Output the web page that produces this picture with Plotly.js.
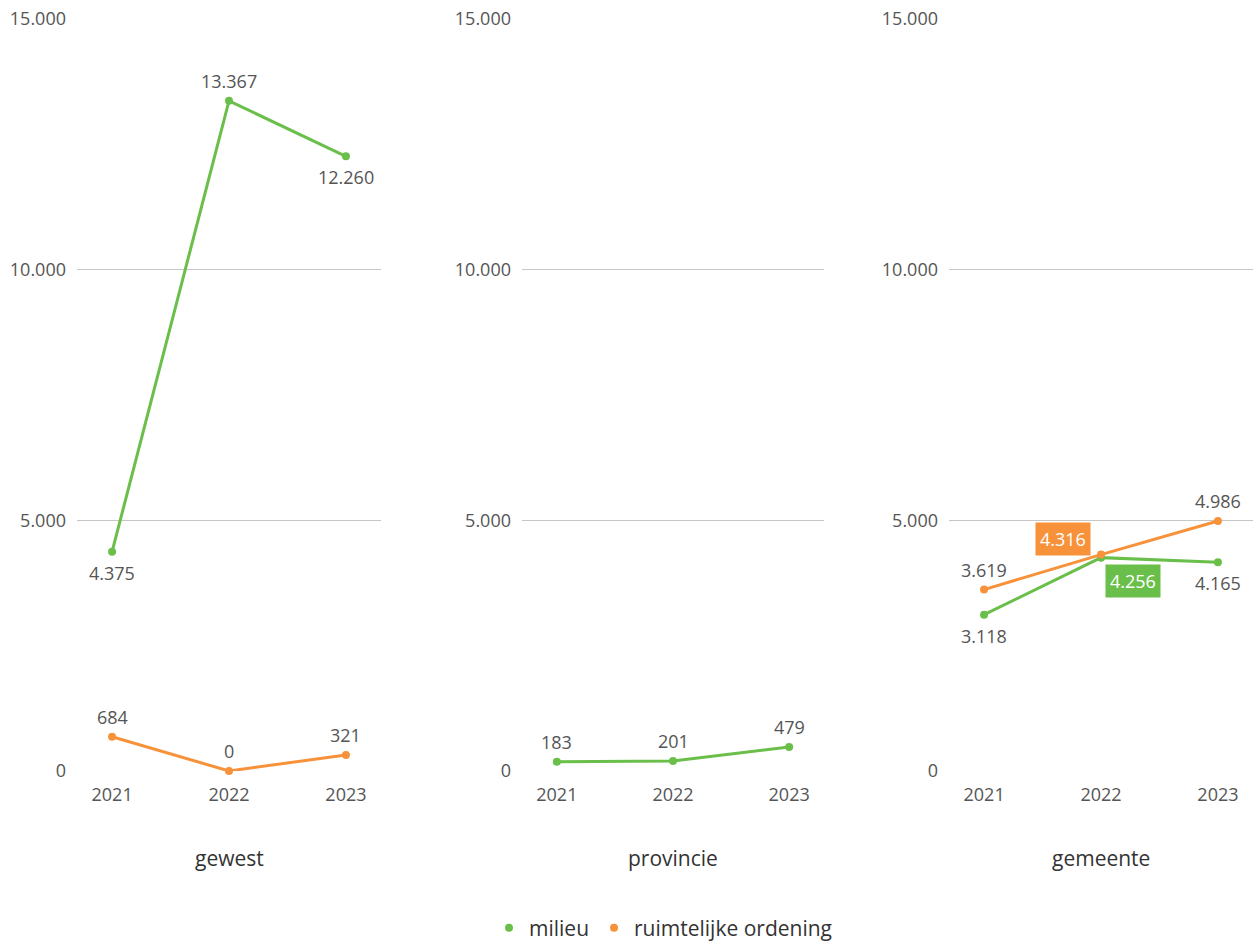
<!DOCTYPE html>
<html><head><meta charset="utf-8">
<script src="https://cdn.plot.ly/plotly-3.0.1.min.js"></script>
<style>html,body{margin:0;padding:0;background:#fff}#c{width:1253px;height:942px}</style>
</head><body><div id="c"></div>
<script>
const years = ['2021', '2022', '2023'];
const panels = ['gewest', 'provincie', 'gemeente'];
const seriesNames = ['milieu', 'ruimtelijke ordening'];
const gewestMilieu = [4375, 13367, 12260];
const gewestRO = [684, 0, 321];
const provincieMilieu = [183, 201, 479];
const provincieRO = [null, null, null];
const gemeenteMilieu = [3118, 4256, 4165];
const gemeenteRO = [3619, 4316, 4986];
const yTicks = [0, 5000, 10000, 15000];
const yTickText = ['0', '5.000', '10.000', '15.000'];

const GREEN = '#6abf4b', ORANGE = '#f7923a';
const FONT = 'Open Sans, sans-serif';
const fmt = v => v == null ? '' : v.toLocaleString('de-DE');
const xIdx = years.map((_, i) => i);

const data = [];
const annotations = [];
// pos: 'a' above, 'b' below, or [xshift, yshift] for boxed label
function addSeries(vals, axis, color, positions) {
  const k = axis === 1 ? '' : axis;
  data.push({
    x: xIdx, y: vals, xaxis: 'x' + k, yaxis: 'y' + k,
    mode: 'lines+markers', showlegend: false, cliponaxis: false,
    line: {color: color, width: 3}, marker: {color: color, size: 8},
    hoverinfo: 'skip'
  });
  vals.forEach((v, i) => {
    if (v == null) return;
    const p = positions[i];
    const a = {
      x: xIdx[i], y: v, xref: 'x' + k, yref: 'y' + k,
      text: fmt(v), showarrow: false, xanchor: 'center', yanchor: 'middle',
      font: {family: FONT, size: 18, color: '#555'}
    };
    if (p === 'a') a.yshift = 20;
    else if (p === 'b') a.yshift = -21;
    else {
      a.xshift = p[0]; a.yshift = p[1];
      a.bgcolor = color; a.borderpad = 4;
      a.font = {family: FONT, size: 18, color: '#fff'};
    }
    annotations.push(a);
  });
}
addSeries(gewestMilieu, 1, GREEN, ['b', 'a', 'b']);
addSeries(gewestRO, 1, ORANGE, ['a', 'a', 'a']);
addSeries(provincieMilieu, 2, GREEN, ['a', 'a', 'a']);
addSeries(provincieRO, 2, ORANGE, ['a', 'a', 'a']);
addSeries(gemeenteMilieu, 3, GREEN, ['b', [32, -23], 'b']);
addSeries(gemeenteRO, 3, ORANGE, ['a', [-38, 16], 'a']);

seriesNames.forEach((n, i) => data.push({
  x: [null], y: [null], mode: 'markers', name: n,
  marker: {color: i === 0 ? GREEN : ORANGE, size: 8}, showlegend: true
}));

const W = 1253, H = 942;
const doms = [[77, 381], [522, 824], [949, 1253]];
const layout = {
  width: W, height: H, margin: {l: 0, r: 0, t: 0, b: 0, autoexpand: false},
  paper_bgcolor: '#fff', plot_bgcolor: '#fff',
  showlegend: true, separators: ',.',
  font: {family: FONT, color: '#555'},
  legend: {orientation: 'h', x: 489 / W, xanchor: 'left', y: 1 - 928 / H, yanchor: 'middle',
    font: {family: FONT, size: 21, color: '#333'}, tracegroupgap: 0},
  annotations: annotations
};
doms.forEach((d, i) => {
  const k = i === 0 ? '' : i + 1;
  layout['xaxis' + k] = {
    domain: [d[0] / W, d[1] / W], type: 'linear', range: [-0.3, 2.3],
    tickvals: xIdx, ticktext: years,
    showgrid: false, zeroline: false, showline: false, ticks: '', ticklabelstandoff: 11,
    tickfont: {family: FONT, size: 18, color: '#555'}, automargin: false,
    anchor: 'y' + k, fixedrange: true
  };
  layout['yaxis' + k] = {
    domain: [1 - 771 / H, 1 - 19 / H], range: [0, 15000],
    tickvals: yTicks, ticktext: yTickText,
    showgrid: true, gridcolor: '#c6c6c6', gridwidth: 1, zeroline: false, showline: false,
    ticks: '', ticklabelstandoff: 10,
    tickfont: {family: FONT, size: 18, color: '#555'}, automargin: false,
    anchor: 'x' + k, fixedrange: true
  };
  annotations.push({
    text: panels[i], xref: 'x' + k + ' domain', x: 0.5, yref: 'paper', y: 1 - 858 / H,
    showarrow: false, yanchor: 'middle', font: {family: FONT, size: 21, color: '#333'}
  });
});
Plotly.newPlot('c', data, layout, {displayModeBar: false, staticPlot: true});
</script></body></html>
